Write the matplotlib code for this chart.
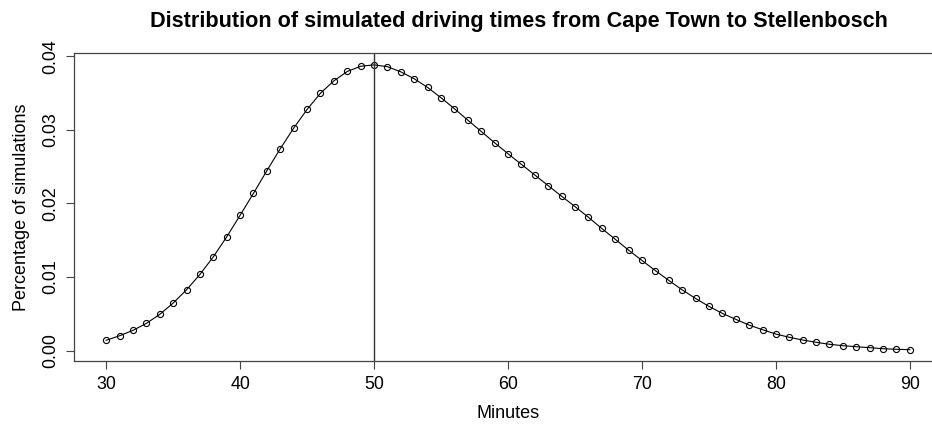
import matplotlib
matplotlib.use("Agg")
import matplotlib.pyplot as plt

plt.rcParams['font.family'] = ['Liberation Sans', 'DejaVu Sans']

# minutes simulated and share of simulations landing on each
minutes = list(range(30, 91))
share = [
    0.00141, 0.00203, 0.00276, 0.00371, 0.00493, 0.00647, 0.00827, 0.01036,
    0.01275, 0.01546, 0.01840, 0.02138, 0.02446, 0.02744, 0.03024, 0.03277,
    0.03498, 0.03666, 0.03793, 0.03864, 0.03883, 0.03858, 0.03788, 0.03694,
    0.03576, 0.03436, 0.03287, 0.03132, 0.02979, 0.02825, 0.02676, 0.02531,
    0.02387, 0.02242, 0.02098, 0.01958, 0.01813, 0.01660, 0.01515, 0.01366,
    0.01226, 0.01088, 0.00955, 0.00827, 0.00710, 0.00602, 0.00507, 0.00426,
    0.00348, 0.00285, 0.00226, 0.00182, 0.00145, 0.00114, 0.00087, 0.00068,
    0.00054, 0.00041, 0.00027, 0.00019, 0.00014,
]
peak = 50
xticks = [30, 40, 50, 60, 70, 80, 90]
yticks = [0.00, 0.01, 0.02, 0.03, 0.04]

fig = plt.figure(figsize=(9.32, 4.26), dpi=100)
# box runs past the right edge like the R device output
ax = fig.add_axes([74 / 932, 65 / 426, (942 - 74) / 932, (361 - 53.3) / 426])

ax.plot(minutes, share, color='black', lw=0.8, marker='o', ms=4.4,
        mfc='none', mec='black', mew=0.8)
ax.axvline(peak, color='#333333', lw=1.0)

ax.set_xlim(27.6, 92.4)
ax.set_ylim(-0.0014, 0.0404)
ax.set_xticks(xticks)
ax.set_yticks(yticks)
ax.set_yticklabels([f'{v:.2f}' for v in yticks], rotation=90, va='center')
ax.tick_params(direction='out', length=5.5, width=0.8, labelsize=12.8, color='#444444', pad=5)

for s in ax.spines.values():
    s.set_color('#444444')
    s.set_linewidth(0.9)

ax.set_xlabel('Minutes', fontsize=13, labelpad=9)
ax.set_ylabel('Percentage of simulations', fontsize=13, labelpad=9)
fig.text(519 / 932, 1 - 22 / 426, 'Distribution of simulated driving times from Cape Town to Stellenbosch',
         ha='center', va='center', fontsize=15.6, fontweight='bold')

fig.savefig('out.png', dpi=100)
